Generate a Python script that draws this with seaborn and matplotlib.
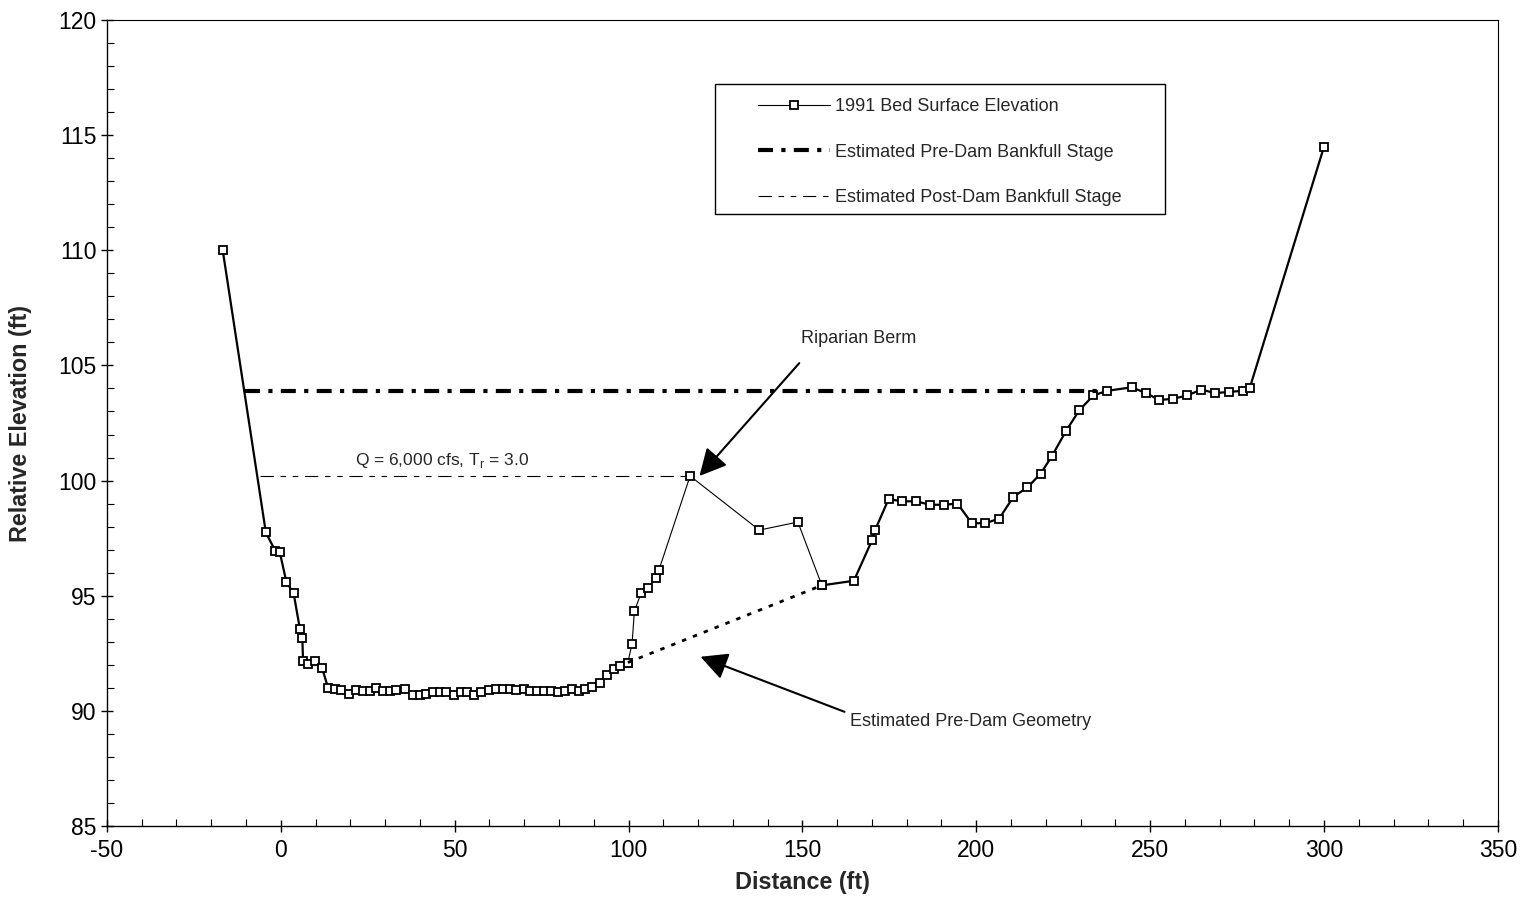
import matplotlib
matplotlib.use("Agg")
import matplotlib.pyplot as plt
import seaborn as sns
import numpy as np
from matplotlib.lines import Line2D
from matplotlib.patches import Rectangle
from matplotlib.ticker import MultipleLocator

# 1991 bed survey (distance ft, relative elevation ft)
bed_x = [-16.7, -4.3, -1.6, -0.3, 1.6, 3.7, 5.5, 6.2, 6.4, 7.9, 9.8, 11.9, 13.6, 15.5, 17.4,
         19.5, 21.6, 23.7, 25.6, 27.5, 29.4, 31.3, 33.2, 35.6, 38.0, 39.9, 41.9, 43.8, 45.7,
         47.6, 49.7, 51.7, 53.6, 55.7, 57.7, 59.8, 61.8, 63.9, 65.8, 67.7, 69.8, 71.8, 73.7,
         75.7, 77.8, 79.7, 81.6, 83.7, 85.7, 87.6, 89.6, 91.7, 93.8, 95.7, 97.6, 99.8, 101.0,
         101.7, 103.6, 105.6, 107.8, 108.7, 117.7, 137.6, 148.7, 155.6, 164.8, 170.0, 170.9,
         174.8, 178.6, 182.7, 186.7, 190.6, 194.6, 198.7, 202.6, 206.6, 210.7, 214.7, 218.5,
         221.7, 225.8, 229.6, 233.7, 237.7, 244.7, 248.8, 252.6, 256.6, 260.7, 264.7, 268.7,
         272.7, 276.7, 278.6, 300.0]
bed_y = [110.0, 97.75, 96.95, 96.9, 95.6, 95.1, 93.55, 93.15, 92.15, 92.05, 92.15, 91.85, 91.0,
         90.95, 90.9, 90.75, 90.9, 90.85, 90.85, 91.0, 90.85, 90.85, 90.9, 90.95, 90.7, 90.7,
         90.75, 90.8, 90.8, 90.8, 90.7, 90.8, 90.8, 90.7, 90.8, 90.9, 90.95, 90.95, 90.95, 90.9,
         90.95, 90.85, 90.85, 90.85, 90.85, 90.8, 90.85, 90.95, 90.85, 90.95, 91.05, 91.2, 91.55,
         91.8, 91.95, 92.1, 92.9, 94.35, 95.1, 95.35, 95.75, 96.1, 100.2, 97.85, 98.2, 95.45,
         95.65, 97.4, 97.85, 99.2, 99.1, 99.1, 98.95, 98.95, 99.0, 98.15, 98.15, 98.35, 99.3,
         99.7, 100.3, 101.05, 102.15, 103.05, 103.7, 103.9, 104.05, 103.8, 103.5, 103.55, 103.7,
         103.95, 103.8, 103.85, 103.9, 104.0, 114.5]

# berm reach (drawn with a thin line)
berm_start, berm_end = 99.8, 155.6

pre_stage_x = [-10.3, 235.0]
pre_stage_y = [103.9, 103.9]
post_stage_x = [-6.0, 117.7]
post_stage_y = [100.2, 100.2]
pre_geom_x = [99.8, 155.6]
pre_geom_y = [92.1, 95.45]

sns.set_style("ticks")
plt.rcParams["font.family"] = ["Liberation Sans", "DejaVu Sans"]
plt.rcParams["axes.unicode_minus"] = False

fig = plt.figure(figsize=(15.21, 9.22), dpi=100)
ax = fig.add_axes([0.0703, 0.1041, 0.9145, 0.8742])

bx = np.array(bed_x)
by = np.array(bed_y)
left = bx <= berm_start
mid = (bx >= berm_start) & (bx <= berm_end)
right = bx >= berm_end

mk = dict(marker="s", markersize=5.5, markerfacecolor="white", markeredgecolor="black",
          markeredgewidth=1.3)
sns.lineplot(x=bx[mid], y=by[mid], ax=ax, color="black", lw=0.8, sort=False,
             estimator=None, **mk)
sns.lineplot(x=bx[left], y=by[left], ax=ax, color="black", lw=1.6, sort=False,
             estimator=None, **mk)
sns.lineplot(x=bx[right], y=by[right], ax=ax, color="black", lw=1.6, sort=False,
             estimator=None, **mk)

pre_ls = (0, (3.6, 2.0, 1.0, 2.0))
post_ls = (0, (12, 6, 5, 6, 5, 6))
sns.lineplot(x=pre_stage_x, y=pre_stage_y, ax=ax, color="black", lw=3,
             linestyle=pre_ls, estimator=None)
sns.lineplot(x=post_stage_x, y=post_stage_y, ax=ax, color="black", lw=0.8,
             linestyle=post_ls, estimator=None)
sns.lineplot(x=pre_geom_x, y=pre_geom_y, ax=ax, color="black", lw=2,
             linestyle=(0, (1.6, 2.6)), estimator=None)
for ln in ax.lines:
    ln.set_dash_capstyle("butt")

ax.text(46.3, 100.45, r"Q = 6,000 cfs, T$_\mathregular{r}$ = 3.0", ha="center",
        va="bottom", fontsize=12.5)

arrow = dict(arrowstyle="-|>,head_length=0.55,head_width=0.28", mutation_scale=30,
             color="black", lw=1.5, shrinkA=0, shrinkB=0)
ax.annotate("", xy=(120.4, 100.2), xytext=(149.1, 105.1), arrowprops=arrow)
ax.text(149.7, 106.18, "Riparian Berm", ha="left", va="center", fontsize=13)
ax.annotate("", xy=(120.7, 92.35), xytext=(162.1, 89.96), arrowprops=arrow)
ax.text(163.8, 89.52, "Estimated Pre-Dam Geometry", ha="left", va="center", fontsize=13)

ax.set_xlim(-50, 350)
ax.set_ylim(85, 120)
ax.xaxis.set_major_locator(MultipleLocator(50))
ax.xaxis.set_minor_locator(MultipleLocator(10))
ax.yaxis.set_major_locator(MultipleLocator(5))
ax.yaxis.set_minor_locator(MultipleLocator(1))
ax.tick_params(which="major", direction="inout", length=9, width=1, labelsize=16.5,
               colors="black")
ax.tick_params(axis="y", which="major", pad=3)
ax.tick_params(axis="x", which="major", pad=5)
ax.tick_params(which="minor", direction="in", length=5, width=0.8, colors="black")
for s in ax.spines.values():
    s.set_visible(True)
    s.set_color("black")
    s.set_linewidth(1)
ax.spines["top"].set_linewidth(0.8)
ax.spines["right"].set_linewidth(0.8)

ax.set_xlabel("Distance (ft)", fontsize=16.8, fontweight="bold", labelpad=6)
ax.set_ylabel("Relative Elevation (ft)", fontsize=16.8, fontweight="bold", labelpad=19)

handles = [
    Line2D([], [], color="black", lw=0.8, **mk),
    Line2D([], [], color="black", lw=3, linestyle=pre_ls, dash_capstyle="butt"),
    Line2D([], [], color="black", lw=0.8, linestyle=post_ls),
]
labels = ["1991 Bed Surface Elevation", "Estimated Pre-Dam Bankfull Stage",
          "Estimated Post-Dam Bankfull Stage"]
leg = ax.legend(handles, labels, loc="upper left", bbox_to_anchor=(0.468, 0.903),
                fontsize=13, frameon=False, handlelength=4.0, handletextpad=0.25,
                labelspacing=1.58, borderpad=0, borderaxespad=0, numpoints=1)
ax.add_patch(Rectangle((0.4371, 0.7593), 0.3235, 0.1613, transform=ax.transAxes,
                       fill=False, edgecolor="black", lw=1, zorder=5))

fig.savefig("out.png", dpi=100, facecolor="white")
